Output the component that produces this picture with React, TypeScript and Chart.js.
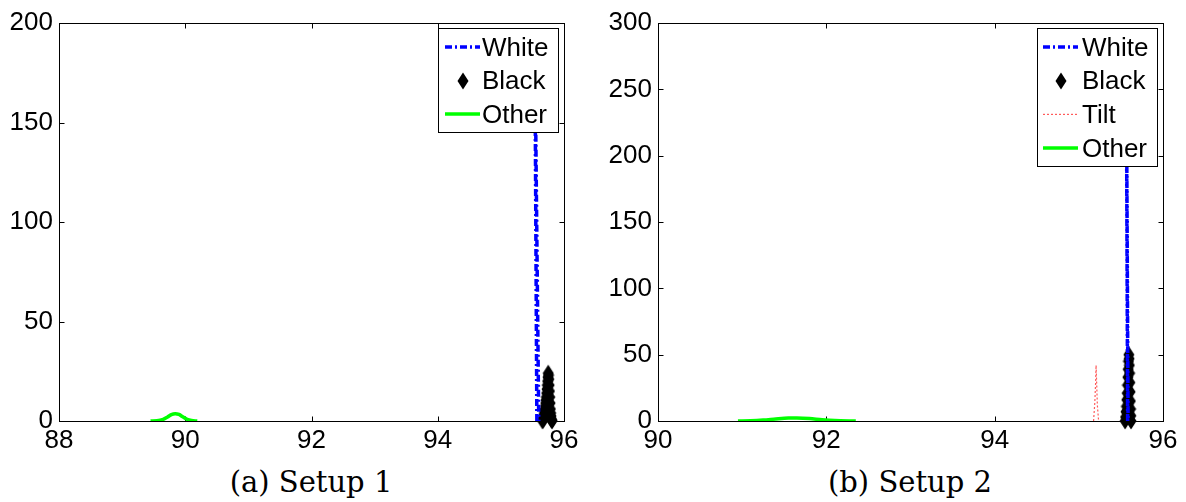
import React, { useEffect, useRef } from "react";
import { Chart, registerables } from "chart.js";
Chart.register(...registerables);

// ---------- Data: Setup 1 ----------
const s1WhiteX = [95.57, 95.545, 95.54, 95.6];
const s1WhiteY = [0, 150, 185, 0];
const s1BlackX = [95.66, 95.665, 95.67, 95.675, 95.68, 95.685, 95.69, 95.695, 95.7, 95.705, 95.71, 95.715, 95.72, 95.725, 95.73, 95.735, 95.74, 95.745, 95.75, 95.755, 95.76, 95.765, 95.77, 95.775, 95.78, 95.785, 95.79, 95.795, 95.8, 95.805, 95.81];
const s1BlackY = [0, 0.5, 1, 1.5, 2, 3, 4, 5, 6, 7.5, 9, 10.5, 12, 14, 16, 18, 20, 22, 24, 23, 21, 18, 15, 12, 9, 6, 4, 2.5, 1, 0.5, 0];
const s1OtherX = [89.45, 89.55, 89.65, 89.72, 89.78, 89.84, 89.9, 89.96, 90.03, 90.1, 90.19];
const s1OtherY = [0, 0.1, 0.8, 2.0, 3.2, 3.7, 3.3, 2.1, 0.8, 0.2, 0];
const s1XRange = [88, 96];
const s1YRange = [0, 200];

// ---------- Data: Setup 2 ----------
const s2WhiteX = [95.58, 95.567, 95.565, 95.585];
const s2WhiteY = [0, 220, 260, 0];
const s2BlackX = [95.55, 95.555, 95.56, 95.565, 95.57, 95.574, 95.578, 95.582, 95.586, 95.59, 95.594, 95.597, 95.6, 95.603, 95.606, 95.609, 95.612, 95.615, 95.618, 95.62];
const s2BlackY = [0, 3, 7, 11, 16, 21, 27, 33, 39, 45, 50, 47, 42, 36, 29, 22, 15, 9, 4, 0];
const s2TiltX = [95.175, 95.19, 95.2, 95.205, 95.21, 95.22, 95.235];
const s2TiltY = [0, 14, 30, 42, 32, 12, 0];
const s2OtherX = [90.95, 91.1, 91.25, 91.4, 91.55, 91.65, 91.8, 91.95, 92.1, 92.35];
const s2OtherY = [0, 0.2, 0.7, 1.5, 2.2, 2.3, 1.8, 0.9, 0.3, 0];
const s2XRange = [90, 96];
const s2YRange = [0, 300];

const xStep = 2;
const yStep = 50;

const FONT = '"Liberation Sans", Arial, sans-serif';

function xy(xs: number[], ys: number[]) {
  return xs.map((x, i) => ({ x, y: ys[i] }));
}

function makeDiamond(): HTMLCanvasElement {
  const c = document.createElement("canvas");
  c.width = 12;
  c.height = 18;
  const g = c.getContext("2d")!;
  g.fillStyle = "#000";
  g.beginPath();
  g.moveTo(6, 0.5);
  g.lineTo(11.5, 9);
  g.lineTo(6, 17.5);
  g.lineTo(0.5, 9);
  g.closePath();
  g.fill();
  return c;
}

const framePlugin = {
  id: "frameLegend",
  beforeDatasetsDraw(chart: any) {
    const { ctx, chartArea: a, scales } = chart;
    const L = Math.round(a.left) + 0.5;
    const R = Math.round(a.right) + 0.5;
    const T = Math.round(a.top) + 0.5;
    const B = Math.round(a.bottom) + 0.5;
    ctx.save();
    ctx.strokeStyle = "#000";
    ctx.lineWidth = 1;
    ctx.strokeRect(L, T, R - L, B - T);
    const tl = 5;
    ctx.beginPath();
    scales.x.ticks.forEach((t: any) => {
      const px = Math.round(scales.x.getPixelForValue(t.value)) + 0.5;
      ctx.moveTo(px, B);
      ctx.lineTo(px, B - tl);
      ctx.moveTo(px, T);
      ctx.lineTo(px, T + tl);
    });
    scales.y.ticks.forEach((t: any) => {
      const py = Math.round(scales.y.getPixelForValue(t.value)) + 0.5;
      ctx.moveTo(L, py);
      ctx.lineTo(L + tl, py);
      ctx.moveTo(R, py);
      ctx.lineTo(R - tl, py);
    });
    ctx.stroke();
    ctx.restore();
  },
  afterDatasetsDraw(chart: any) {
    const cfg = chart.options.plugins.boxLegend;
    if (!cfg) return;
    const ctx = chart.ctx;
    ctx.save();
    ctx.fillStyle = "#fff";
    ctx.fillRect(cfg.x, cfg.y, cfg.w, cfg.h);
    ctx.strokeStyle = "#000";
    ctx.lineWidth = 1;
    ctx.strokeRect(cfg.x + 0.5, cfg.y + 0.5, cfg.w, cfg.h);
    chart.data.datasets.forEach((ds: any, i: number) => {
      const cy = cfg.y + cfg.rowTop + i * cfg.rowGap;
      const sx0 = cfg.x + cfg.sampleX;
      const sx1 = sx0 + cfg.sampleW;
      if (ds.showLine === false) {
        const img = ds.pointStyle as HTMLCanvasElement;
        ctx.drawImage(img, Math.round((sx0 + sx1) / 2 - img.width / 2), Math.round(cy - img.height / 2));
      } else {
        ctx.save();
        ctx.setLineDash(ds.borderDash || []);
        ctx.strokeStyle = ds.borderColor;
        ctx.lineWidth = ds.borderWidth;
        ctx.beginPath();
        ctx.moveTo(sx0, cy);
        ctx.lineTo(sx1, cy);
        ctx.stroke();
        ctx.restore();
      }
      ctx.fillStyle = "#000";
      ctx.font = `26px ${FONT}`;
      ctx.textBaseline = "middle";
      ctx.textAlign = "left";
      ctx.fillText(ds.label, cfg.x + cfg.textX, cy + 1.5);
    });
    ctx.restore();
  },
};

type PanelProps = {
  datasets: any[];
  xRange: number[];
  yRange: number[];
  plotLeft: number;
  plotRight: number;
  legend: any;
};

const CW = 593;
const CH = 460;
const PLOT_TOP = 23;
const PLOT_BOTTOM = 421;

function Panel({ datasets, xRange, yRange, plotLeft, plotRight, legend }: PanelProps) {
  const ref = useRef<HTMLCanvasElement>(null);
  useEffect(() => {
    const tickFont = { family: FONT, size: 26 };
    const chart = new Chart(ref.current!, {
      type: "line",
      data: { datasets },
      options: {
        animation: false,
        responsive: false,
        maintainAspectRatio: false,
        events: [],
        layout: { padding: { top: PLOT_TOP, right: CW - plotRight, left: 0, bottom: 0 } },
        scales: {
          x: {
            type: "linear",
            min: xRange[0],
            max: xRange[1],
            ticks: { stepSize: xStep, font: tickFont, color: "#000", padding: 4, maxRotation: 0, autoSkip: false },
            grid: { display: false, drawTicks: false },
            border: { display: false },
            afterFit: (s: any) => {
              s.height = CH - PLOT_BOTTOM;
            },
          },
          y: {
            type: "linear",
            min: yRange[0],
            max: yRange[1],
            ticks: { stepSize: yStep, font: tickFont, color: "#000", padding: 6 },
            grid: { display: false, drawTicks: false },
            border: { display: false },
            afterFit: (s: any) => {
              s.width = plotLeft;
            },
          },
        },
        plugins: {
          legend: { display: false },
          tooltip: { enabled: false },
          boxLegend: legend,
        } as any,
      },
      plugins: [framePlugin],
    });
    return () => chart.destroy();
  }, []);
  return <canvas ref={ref} width={CW} height={CH} style={{ display: "block", width: CW, height: CH }} />;
}

export default function App() {
  const diamond = makeDiamond();
  const whiteStyle = {
    borderColor: "#0000ff",
    borderWidth: 3.5,
    borderDash: [7, 3, 2, 3],
    pointRadius: 0,
    tension: 0,
  };
  const blackStyle = {
    showLine: false,
    pointStyle: diamond,
    pointRadius: 6,
    clip: false,
  };
  const otherStyle = { borderColor: "#00ff00", borderWidth: 3.5, pointRadius: 0, tension: 0.3 };
  const tiltStyle = { borderColor: "#ff5a5a", borderWidth: 1.2, borderDash: [2, 2], pointRadius: 0, tension: 0 };

  const ds1 = [
    { label: "White", data: xy(s1WhiteX, s1WhiteY), ...whiteStyle },
    { label: "Black", data: xy(s1BlackX, s1BlackY), ...blackStyle },
    { label: "Other", data: xy(s1OtherX, s1OtherY), ...otherStyle },
  ];
  const ds2 = [
    { label: "White", data: xy(s2WhiteX, s2WhiteY), ...whiteStyle },
    { label: "Black", data: xy(s2BlackX, s2BlackY), ...blackStyle },
    { label: "Tilt", data: xy(s2TiltX, s2TiltY), ...tiltStyle },
    { label: "Other", data: xy(s2OtherX, s2OtherY), ...otherStyle },
  ];

  const captionStyle: React.CSSProperties = {
    position: "absolute",
    top: 465,
    width: 400,
    textAlign: "center",
    fontFamily: '"DejaVu Serif", serif',
    fontSize: 29,
    lineHeight: "34px",
    color: "#000",
  };

  return (
    <div style={{ position: "absolute", left: 0, top: 0, width: 1186, height: 502, background: "#fff", overflow: "hidden" }}>
      <div style={{ position: "absolute", left: 0, top: 0 }}>
        <Panel
          datasets={ds1}
          xRange={s1XRange}
          yRange={s1YRange}
          plotLeft={59}
          plotRight={564}
          legend={{ x: 438, y: 28, w: 120, h: 104, rowTop: 19, rowGap: 33.5, sampleX: 7, sampleW: 35, textX: 44 }}
        />
      </div>
      <div style={{ position: "absolute", left: CW, top: 0 }}>
        <Panel
          datasets={ds2}
          xRange={s2XRange}
          yRange={s2YRange}
          plotLeft={65}
          plotRight={570}
          legend={{ x: 444, y: 28, w: 120, h: 138, rowTop: 19, rowGap: 33.7, sampleX: 6, sampleW: 35, textX: 45 }}
        />
      </div>
      <div style={{ ...captionStyle, left: 311 - 200 }}>(a) Setup 1</div>
      <div style={{ ...captionStyle, left: 910 - 200 }}>(b) Setup 2</div>
    </div>
  );
}
